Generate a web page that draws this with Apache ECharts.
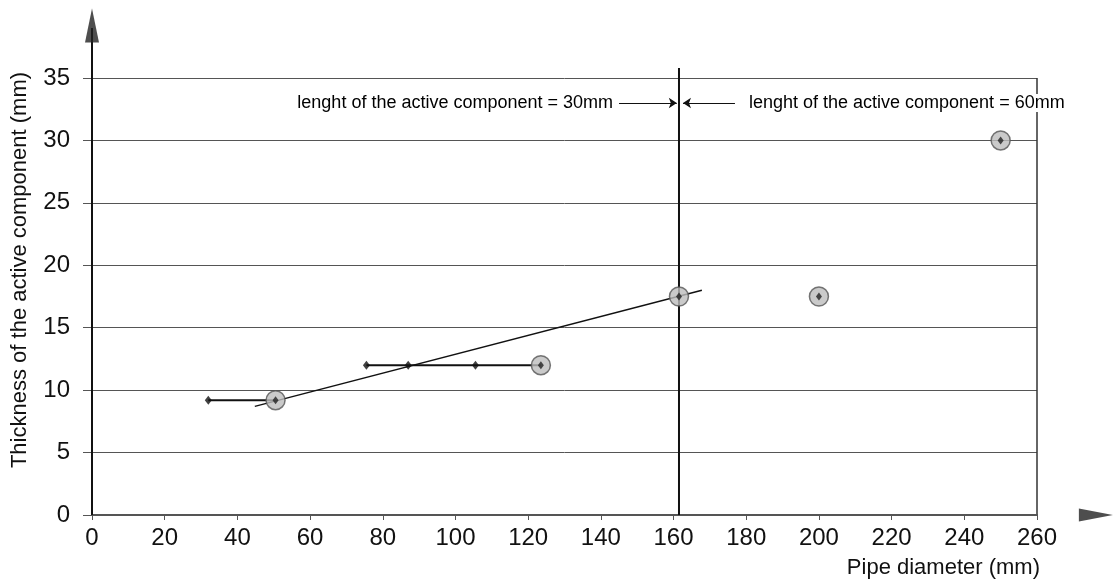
<!DOCTYPE html>
<html>
<head>
<meta charset="utf-8">
<script src="https://cdn.jsdelivr.net/npm/echarts@6/dist/echarts.min.js"></script>
<style>
html,body{margin:0;padding:0;background:#fff;}
#c{width:1114px;height:587px;}
</style>
</head>
<body>
<div id="c"></div>
<script>
// ---- data ----
const smallX = [32, 75.5, 87, 105.5];
const smallY = [9.2, 12, 12, 12];
const bigX = [50.5, 123.5, 161.5, 200, 250];
const bigY = [9.2, 12, 17.5, 17.5, 30];
const link1X = [32, 50.5];
const link1Y = [9.2, 9.2];
const link2X = [75.5, 123.5];
const link2Y = [12, 12];
const trendX = [44.8, 167.8];
const trendY = [8.7, 18.0];
const dividerX = 161.5;
const dividerTop = 35.8;
const annotationY = 33;
const annotationTexts = ['lenght of the active component = 30mm', 'lenght of the active component = 60mm'];
const leftArrowX = [145, 160.9];
const rightArrowX = [176.9, 162.6];
const xName = 'Pipe diameter (mm)';
const yName = 'Thickness of the active component (mm)';
const xMin = 0, xMax = 260, xStep = 20;
const yMin = 0, yMax = 35, yStep = 5;
const xAxisEnd = 277, yAxisEnd = 39;
const xArrowAt = 276.2, yArrowAt = 39.2;

const pts = (xs, ys) => xs.map((x, i) => [x, ys[i]]);
const FONT = '"Liberation Sans", Arial, Helvetica, sans-serif';
const TXT = '#111';

const chart = echarts.init(document.getElementById('c'), null, {renderer: 'canvas'});
const option = {
  backgroundColor: '#fff',
  animation: false,
  grid: {left: 92, right: 77, top: 78, bottom: 72, containLabel: false},
  xAxis: {
    type: 'value', min: xMin, max: xMax, interval: xStep,
    axisLine: {show: false},
    axisTick: {show: true, length: 5, lineStyle: {color: '#555', width: 1}},
    axisLabel: {fontSize: 24, color: TXT, fontFamily: FONT, margin: 11},
    splitLine: {show: false}
  },
  yAxis: {
    type: 'value', min: yMin, max: yMax, interval: yStep,
    axisLine: {show: false},
    axisTick: {show: true, length: 9, lineStyle: {color: '#555', width: 1}},
    axisLabel: {fontSize: 24, color: TXT, fontFamily: FONT, margin: 22},
    splitLine: {show: true, lineStyle: {color: '#555', width: 1}}
  },
  graphic: [
    {type: 'text', x: 20, y: 270, rotation: Math.PI / 2,
     style: {text: yName, font: '22px ' + FONT, fill: TXT, textAlign: 'center', textVerticalAlign: 'middle'}},
    {type: 'text', x: 1040, y: 568,
     style: {text: xName, font: '22px ' + FONT, fill: TXT, textAlign: 'right', textVerticalAlign: 'middle'}}
  ],
  series: [
    // right border
    {type: 'line', data: [[xMax, yMin], [xMax, yMax]], symbol: 'none', clip: false,
     lineStyle: {color: '#333', width: 1.5}, z: 3},
    // x axis line
    {type: 'line', data: [[-2.5, 0], [xAxisEnd, 0]], symbol: 'none', clip: false,
     lineStyle: {color: '#555', width: 2}, z: 3},
    // y axis line
    {type: 'line', data: [[0, 0], [0, yAxisEnd]], symbol: 'none', clip: false,
     lineStyle: {color: '#111', width: 2}, z: 4},
    // axis arrows
    {type: 'scatter', data: [[0, yArrowAt]], clip: false, symbol: 'path://M5,0L10,30L0,30Z',
     symbolSize: [14, 34], symbolKeepAspect: false, itemStyle: {color: '#222'}, z: 5},
    {type: 'scatter', data: [[xArrowAt, 0]], clip: false, symbol: 'path://M0,0L30,5L0,10Z',
     symbolSize: [34, 13], symbolKeepAspect: false, itemStyle: {color: '#222'}, z: 5},
    // divider
    {type: 'line', data: [[dividerX, 0], [dividerX, dividerTop]], symbol: 'none', clip: false,
     lineStyle: {color: '#111', width: 2}, z: 4},
    // trend line
    {type: 'line', data: pts(trendX, trendY), symbol: 'none', clip: false,
     lineStyle: {color: '#111', width: 1.5}, z: 5},
    // connectors
    {type: 'line', data: pts(link1X, link1Y), symbol: 'none', lineStyle: {color: '#111', width: 2}, z: 5},
    {type: 'line', data: pts(link2X, link2Y), symbol: 'none', lineStyle: {color: '#111', width: 2}, z: 5},
    // small diamonds
    {type: 'scatter', data: pts(smallX, smallY), symbol: 'diamond', symbolSize: [7, 9],
     itemStyle: {color: '#111'}, z: 6},
    // big circles
    {type: 'scatter', data: pts(bigX, bigY), symbol: 'circle', symbolSize: 19,
     itemStyle: {color: '#bdbdbd', borderColor: '#555', borderWidth: 1.5}, z: 7},
    {type: 'scatter', data: pts(bigX, bigY), symbol: 'diamond', symbolSize: [6, 8],
     itemStyle: {color: '#222'}, z: 8},
    // annotation arrows
    {type: 'lines', coordinateSystem: 'cartesian2d', symbol: ['none', 'arrow'], symbolSize: 8,
     lineStyle: {color: '#111', width: 1, opacity: 1}, z: 6,
     data: [{coords: [[leftArrowX[0], annotationY], [leftArrowX[1], annotationY]]},
            {coords: [[rightArrowX[0], annotationY], [rightArrowX[1], annotationY]]}]},
    // annotation texts
    {type: 'scatter', symbolSize: 0, clip: false, z: 9,
     data: [
       {value: [leftArrowX[0], annotationY], label: {show: true, position: 'left', distance: 6, formatter: annotationTexts[0]}},
       {value: [rightArrowX[0], annotationY], label: {show: true, position: 'right', distance: 14, formatter: annotationTexts[1]}}
     ],
     label: {fontSize: 18, color: '#000', opacity: 1, fontFamily: FONT, backgroundColor: '#fff'}}
  ]
};
chart.setOption(option);
</script>
</body>
</html>
